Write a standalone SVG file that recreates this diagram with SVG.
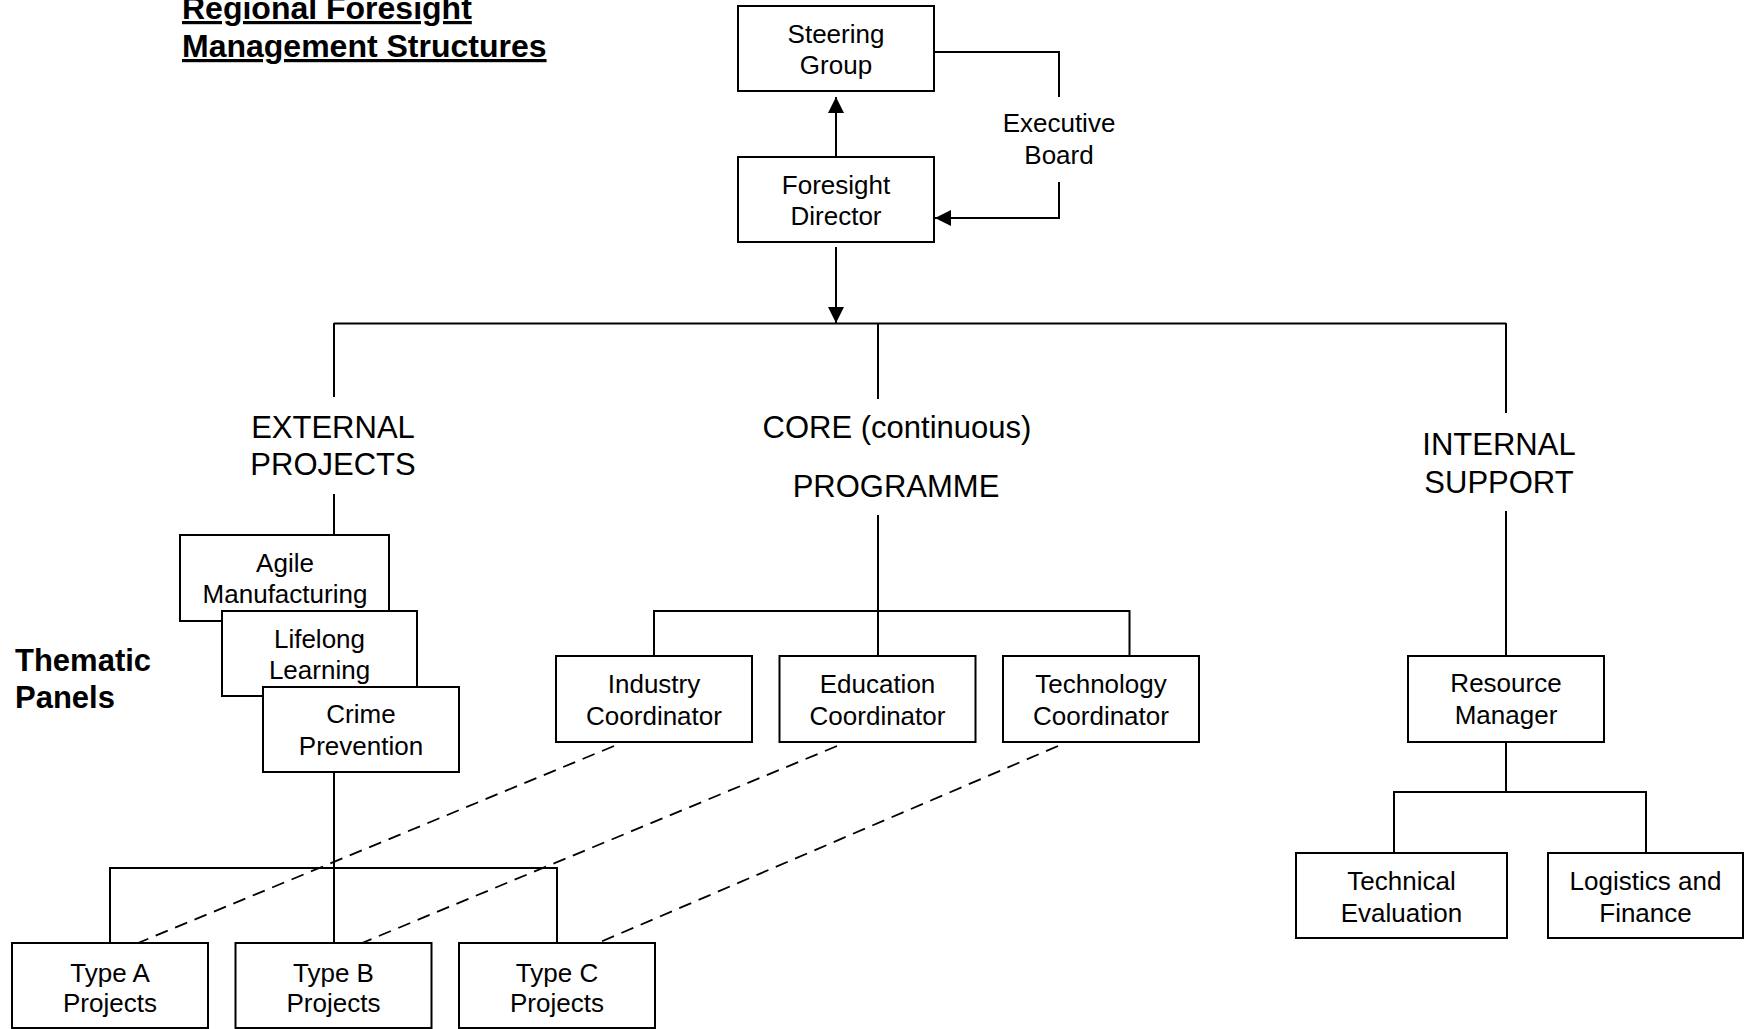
<svg xmlns="http://www.w3.org/2000/svg" width="1744" height="1029" viewBox="0 0 1744 1029">
<style>
  .box { fill: #ffffff; stroke: #000000; stroke-width: 2; }
  .t { font-family: "Liberation Sans", Arial, sans-serif; font-size: 26px; fill: #000000; text-anchor: middle; }
  .lbl { font-family: "Liberation Sans", Arial, sans-serif; font-size: 31px; fill: #000000; text-anchor: middle; }
  .bold { font-family: "Liberation Sans", Arial, sans-serif; font-weight: bold; fill: #000000; }
  .ln { fill: none; stroke: #000000; stroke-width: 2; }
  .dash { fill: none; stroke: #000000; stroke-width: 1.8; stroke-dasharray: 13 8; }
</style>
<defs>
  <marker id="arr" markerUnits="userSpaceOnUse" markerWidth="16" markerHeight="16" refX="16" refY="8" orient="auto">
    <path d="M0,0 L16,8 L0,16 Z" fill="#000000"/>
  </marker>
</defs>
<rect width="1744" height="1029" fill="#ffffff"/>

<g id="title">
  <text class="bold" x="182" y="19" font-size="32" text-decoration="underline">Regional Foresight</text>
  <text class="bold" x="182" y="57" font-size="32" text-decoration="underline">Management Structures</text>
</g>
<g id="thematic-label">
  <text class="bold" x="15" y="671" font-size="31">Thematic</text>
  <text class="bold" x="15" y="708" font-size="31">Panels</text>
</g>

<g id="connectors">
  <line class="ln" x1="836" y1="157" x2="836" y2="97" marker-end="url(#arr)"/>
  <line class="ln" x1="836" y1="247" x2="836" y2="323" marker-end="url(#arr)"/>
  <path class="ln" d="M934,52 H1059 V97"/>
  <path class="ln" d="M1059,182 V218 H935" marker-end="url(#arr)"/>
  <path class="ln" d="M334,323.5 H1506"/>
  <line class="ln" x1="334" y1="323" x2="334" y2="397"/>
  <line class="ln" x1="334" y1="494" x2="334" y2="535"/>
  <line class="ln" x1="334" y1="772" x2="334" y2="943"/>
  <path class="ln" d="M110,943 V868 H557 V943"/>
  <line class="ln" x1="878" y1="323" x2="878" y2="399"/>
  <line class="ln" x1="878" y1="515" x2="878" y2="656"/>
  <path class="ln" d="M654,656 V611 H1129.5 V656"/>
  <line class="ln" x1="1506" y1="323" x2="1506" y2="413"/>
  <line class="ln" x1="1506" y1="511" x2="1506" y2="656"/>
  <line class="ln" x1="1506" y1="742" x2="1506" y2="792"/>
  <path class="ln" d="M1394,853 V792 H1646 V853"/>
  <line class="dash" x1="614" y1="746" x2="138" y2="943"/>
  <line class="dash" x1="837" y1="746" x2="362" y2="943"/>
  <line class="dash" x1="1058" y1="746" x2="598" y2="943"/>
</g>

<g id="steering-group">
  <rect class="box" x="738" y="6" width="196" height="85"/>
  <text class="t" x="836" y="43">Steering</text>
  <text class="t" x="836" y="74">Group</text>
</g>
<g id="foresight-director">
  <rect class="box" x="738" y="157" width="196" height="85"/>
  <text class="t" x="836" y="194">Foresight</text>
  <text class="t" x="836" y="225">Director</text>
</g>
<g id="executive-board">
  <text class="t" x="1059" y="132">Executive</text>
  <text class="t" x="1059" y="164">Board</text>
</g>

<g id="external-projects">
  <text class="lbl" x="333" y="438">EXTERNAL</text>
  <text class="lbl" x="333" y="475">PROJECTS</text>
</g>
<g id="core-programme">
  <text class="lbl" x="897" y="438">CORE (continuous)</text>
  <text class="lbl" x="896" y="497">PROGRAMME</text>
</g>
<g id="internal-support">
  <text class="lbl" x="1499" y="455">INTERNAL</text>
  <text class="lbl" x="1499" y="493">SUPPORT</text>
</g>

<g id="agile-manufacturing">
  <rect class="box" x="180" y="535" width="209" height="86"/>
  <text class="t" x="285" y="572">Agile</text>
  <text class="t" x="285" y="603">Manufacturing</text>
</g>
<g id="lifelong-learning">
  <rect class="box" x="222" y="611" width="195" height="85"/>
  <text class="t" x="319.5" y="648">Lifelong</text>
  <text class="t" x="319.5" y="679">Learning</text>
</g>
<g id="crime-prevention">
  <rect class="box" x="263" y="687" width="196" height="85"/>
  <text class="t" x="361" y="723">Crime</text>
  <text class="t" x="361" y="755">Prevention</text>
</g>

<g id="industry-coordinator">
  <rect class="box" x="556" y="656" width="196" height="86"/>
  <text class="t" x="654" y="693">Industry</text>
  <text class="t" x="654" y="725">Coordinator</text>
</g>
<g id="education-coordinator">
  <rect class="box" x="779.5" y="656" width="196" height="86"/>
  <text class="t" x="877.5" y="693">Education</text>
  <text class="t" x="877.5" y="725">Coordinator</text>
</g>
<g id="technology-coordinator">
  <rect class="box" x="1003" y="656" width="196" height="86"/>
  <text class="t" x="1101" y="693">Technology</text>
  <text class="t" x="1101" y="725">Coordinator</text>
</g>

<g id="resource-manager">
  <rect class="box" x="1408" y="656" width="196" height="86"/>
  <text class="t" x="1506" y="692">Resource</text>
  <text class="t" x="1506" y="724">Manager</text>
</g>
<g id="technical-evaluation">
  <rect class="box" x="1296" y="853" width="211" height="85"/>
  <text class="t" x="1401.5" y="890">Technical</text>
  <text class="t" x="1401.5" y="922">Evaluation</text>
</g>
<g id="logistics-finance">
  <rect class="box" x="1548" y="853" width="195" height="85"/>
  <text class="t" x="1645.5" y="890">Logistics and</text>
  <text class="t" x="1645.5" y="922">Finance</text>
</g>

<g id="type-a">
  <rect class="box" x="12" y="943" width="196" height="85"/>
  <text class="t" x="110" y="982">Type A</text>
  <text class="t" x="110" y="1012">Projects</text>
</g>
<g id="type-b">
  <rect class="box" x="235.5" y="943" width="196" height="85"/>
  <text class="t" x="333.5" y="982">Type B</text>
  <text class="t" x="333.5" y="1012">Projects</text>
</g>
<g id="type-c">
  <rect class="box" x="459" y="943" width="196" height="85"/>
  <text class="t" x="557" y="982">Type C</text>
  <text class="t" x="557" y="1012">Projects</text>
</g>
</svg>
